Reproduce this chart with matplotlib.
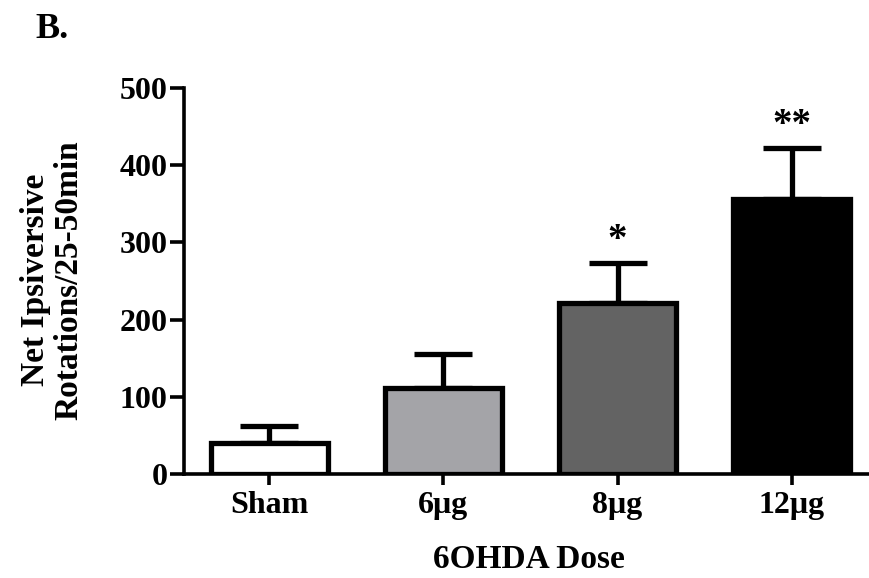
import matplotlib
matplotlib.use("Agg")
import matplotlib.pyplot as plt

categories = ["Sham", "6\u03bcg", "8\u03bcg", "12\u03bcg"]
means = [40, 112, 221, 356]
sem = [22, 43, 52, 66]
colors = ["#ffffff", "#a4a4a8", "#636363", "#000000"]
sig = ["", "", "*", "**"]
yticks = [0, 100, 200, 300, 400, 500]

plt.rcParams['font.family'] = ['Liberation Serif', 'DejaVu Serif']

fig = plt.figure(figsize=(8.7, 5.78), dpi=100)
ax = fig.add_axes([184/870, 1-474/578, 1-184/870, (474-88)/578])

x = list(range(len(categories)))
ax.bar(x, means, width=0.67, color=colors, edgecolor="black", linewidth=3.8, zorder=3)
ax.errorbar(x, means, yerr=[[0]*len(sem), sem], fmt="none", ecolor="black",
            elinewidth=3.8, capsize=21, capthick=3.8, zorder=2)

for xi, m, s, t in zip(x, means, sem, sig):
    if t:
        ax.text(xi, m + s + 5, t, ha="center", va="bottom", fontsize=28,
                fontweight="bold")

ax.set_xlim(-0.49, 3.45)
ax.set_ylim(0, 500)
ax.set_yticks(yticks)
ax.set_xticks(x)
ax.set_xticklabels(categories, fontsize=23, fontweight="bold")
ax.set_yticklabels([str(v) for v in yticks], fontsize=23, fontweight="bold")
for sp in ["top", "right"]:
    ax.spines[sp].set_visible(False)
for sp in ["left", "bottom"]:
    ax.spines[sp].set_linewidth(2.6)
ax.tick_params(axis="y", direction="out", length=10, width=2.6, pad=2)
ax.tick_params(axis="x", direction="out", length=8, width=2.6, pad=4)

fig.text(529/870, 1-560/578, "6OHDA Dose", ha="center", va="center",
         fontsize=24, fontweight="bold")
fig.text(52/870, 1-280/578, "Net Ipsiversive\nRotations/25-50min", ha="center",
         va="center", rotation=90, fontsize=24, fontweight="bold", linespacing=1.1)
fig.text(35/870, 1-30/578, "B.", ha="left", va="center", fontsize=26,
         fontweight="bold")

fig.savefig("out.png", dpi=100, facecolor="white")
